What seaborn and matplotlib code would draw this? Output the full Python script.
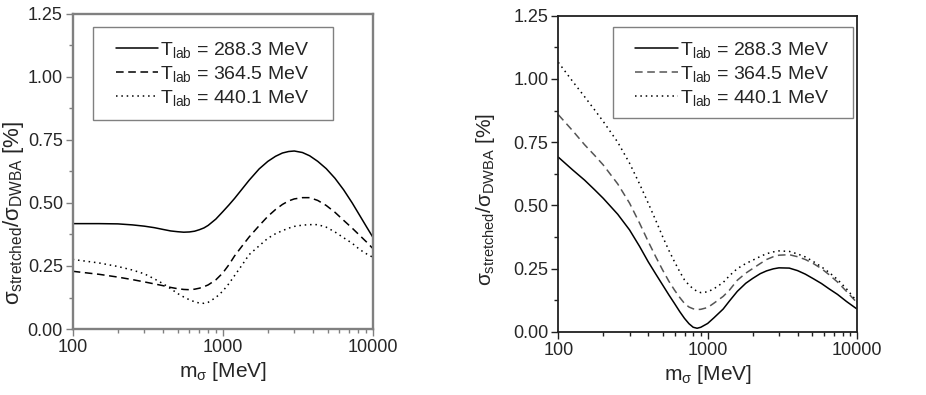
import numpy as np
import pandas as pd
import matplotlib
matplotlib.use('Agg')
import matplotlib.pyplot as plt
import seaborn as sns
from matplotlib.patches import Rectangle
from matplotlib.ticker import FixedLocator, NullFormatter, FormatStrFormatter, MultipleLocator

# sigma mass grid [MeV] and ratios [%]
m_left = [100, 150, 200, 250, 300, 350, 400, 450, 500, 550, 600, 650, 700, 750, 800, 900,
          1000, 1100, 1200, 1350, 1500, 1750, 2000, 2250, 2500, 2750, 3000, 3400, 3800,
          4300, 4900, 5600, 6400, 7300, 8200, 9100, 10000]
left_288 = [.418, .418, .417, .413, .408, .402, .395, .389, .386, .384, .385, .388, .394, .401,
            .411, .436, .465, .492, .518, .556, .59, .635, .665, .685, .698, .704, .706, .70,
            .687, .665, .636, .598, .552, .50, .45, .405, .365]
left_364 = [.229, .217, .206, .196, .187, .179, .172, .165, .16, .157, .156, .158, .162, .168,
            .175, .195, .222, .255, .29, .33, .365, .41, .447, .474, .494, .508, .516, .521,
            .521, .51, .49, .463, .431, .40, .371, .345, .32]
left_440 = [.276, .262, .248, .234, .219, .199, .18, .16, .141, .127, .116, .108, .103, .102,
            .106, .125, .15, .18, .212, .255, .295, .33, .36, .378, .39, .40, .407, .412,
            .414, .414, .404, .385, .362, .34, .315, .298, .285]

m_right = [100, 125, 150, 175, 200, 250, 300, 350, 400, 450, 500, 550, 600, 650, 700, 750,
           800, 850, 900, 1000, 1100, 1270, 1400, 1580, 1800, 2000, 2250, 2480, 2750, 3000,
           3520, 4000, 4510, 5100, 5780, 6500, 7400, 8500, 10000]
right_288 = [.691, .64, .60, .562, .528, .465, .403, .338, .277, .228, .185, .146, .112, .08,
             .053, .032, .018, .014, .018, .033, .055, .09, .122, .16, .192, .211, .23, .241,
             .249, .253, .252, .242, .228, .21, .191, .17, .148, .12, .09]
right_364 = [.859, .795, .74, .698, .66, .585, .509, .43, .357, .296, .244, .2, .165, .136,
             .112, .098, .091, .088, .089, .096, .113, .14, .165, .204, .232, .25, .27, .286,
             .297, .303, .305, .297, .286, .27, .25, .226, .197, .16, .115]
right_440 = [1.066, .99, .93, .878, .832, .75, .667, .585, .509, .44, .376, .322, .277, .238,
             .205, .185, .17, .16, .155, .158, .17, .195, .222, .25, .27, .283, .298, .309,
             .316, .32, .318, .308, .296, .278, .257, .235, .207, .17, .12]

labels = [r'T$_{\mathrm{lab}}$ = 288.3 MeV',
          r'T$_{\mathrm{lab}}$ = 364.5 MeV',
          r'T$_{\mathrm{lab}}$ = 440.1 MeV']

sns.set_style('ticks')
plt.rcParams['font.family'] = ['Liberation Sans', 'DejaVu Sans']
plt.rcParams['mathtext.fontset'] = 'custom'
plt.rcParams['mathtext.rm'] = 'Liberation Sans'
plt.rcParams['mathtext.it'] = 'Liberation Sans'

fig = plt.figure(figsize=(9.26, 3.95), dpi=100)
ax1 = fig.add_axes([0.0785, 0.167, 0.324, 0.798])
ax2 = fig.add_axes([0.6029, 0.16, 0.3226, 0.80])

styles = ['-', (0, (5, 3)), (0, (1, 2.5))]


def panel(ax, m, series, dash_color, spine_color, spine_w, leg_anchor, box,
          ylab_size, ylab_xy):
    colors = ['black', dash_color, 'black']
    for y, lab, ls, c in zip(series, labels, styles, colors):
        sns.lineplot(x=m, y=y, ax=ax, color=c, linestyle=ls, linewidth=1.1, label=lab)
    ax.set_xscale('log')
    ax.set_xlim(100, 10000)
    ax.set_ylim(0, 1.25)
    ax.xaxis.set_major_locator(FixedLocator([100, 1000, 10000]))
    ax.xaxis.set_major_formatter(FormatStrFormatter('%d'))
    minors = [k * d for d in (100, 1000) for k in range(2, 10)]
    ax.xaxis.set_minor_locator(FixedLocator(minors))
    ax.xaxis.set_minor_formatter(NullFormatter())
    ax.yaxis.set_major_locator(MultipleLocator(0.25))
    ax.yaxis.set_minor_locator(MultipleLocator(0.125))
    ax.yaxis.set_major_formatter(FormatStrFormatter('%.2f'))
    ax.tick_params(which='major', direction='out', length=5, width=1, labelsize=13,
                   color=spine_color, pad=2)
    ax.tick_params(which='minor', direction='out', length=3, width=1, color=spine_color)
    for s in ax.spines.values():
        s.set_color(spine_color)
        s.set_linewidth(spine_w)
    ax.set_xlabel(r'm$_{\sigma}$ [MeV]', fontsize=15, labelpad=3)
    ax.set_ylabel(r'$\sigma_{\mathrm{stretched}}/\sigma_{\mathrm{DWBA}}$ [%]', fontsize=ylab_size)
    ax.yaxis.set_label_coords(*ylab_xy)
    ax.legend(loc='upper left', bbox_to_anchor=leg_anchor, fontsize=14,
              frameon=False, handlelength=2.2, handletextpad=0.1, borderpad=0,
              labelspacing=0.2, borderaxespad=0)
    # legend frame: wider side padding than matplotlib's uniform borderpad allows
    ax.add_patch(Rectangle(box[:2], box[2], box[3], transform=ax.transAxes,
                           fill=False, edgecolor='#808080', linewidth=1.0, zorder=5))


panel(ax1, m_left, [left_288, left_364, left_440], 'black', '#808080', 1.7,
      (0.143, 0.917), (0.0667, 0.663, 0.80, 0.295), 16, (-0.157, 0.37))
panel(ax2, m_right, [right_288, right_364, right_440], '#555555', '#202020', 1.3,
      (0.258, 0.924), (0.184, 0.677, 0.803, 0.288), 15, (-0.204, 0.42))

fig.savefig('out.png', dpi=100)
